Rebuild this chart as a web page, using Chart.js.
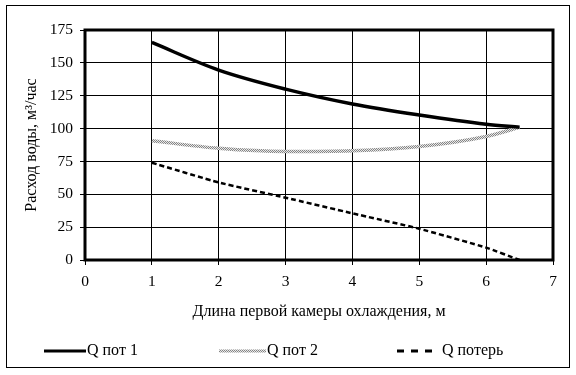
<!DOCTYPE html>
<html>
<head>
<meta charset="utf-8">
<script src="https://cdn.jsdelivr.net/npm/chart.js@4/dist/chart.umd.min.js"></script>
<style>
    body { margin: 0; background: #fff; }
    #wrap { width: 576px; height: 375px; position: relative; }
</style>
</head>
<body>
<div id="wrap"><canvas id="myChart" width="576" height="375"></canvas></div>
<script>
const lengths = [1, 2, 3, 4, 5, 6, 6.5];
const qPot1 = [165.5, 144.5, 130, 118.7, 110.3, 103.3, 101];
const qPot2 = [90.8, 85, 82.6, 83.2, 86.4, 94, 101];
const qLoss = [74, 59, 47.4, 35.5, 23.8, 9.4, 0];
const seriesNames = ['Q пот 1', 'Q пот 2', 'Q потерь'];
const xTitle = 'Длина первой камеры охлаждения, м';
const yTitle = 'Расход воды, м³/час';

const FONT = 'Liberation Serif, Times New Roman, serif';

function toPoints(values){
    return values.map((v, i) => ({x: lengths[i], y: v}));
}

function makeDotPattern(){
    const c = document.createElement('canvas');
    c.width = 2;
    c.height = 2;
    const g = c.getContext('2d');
    g.fillStyle = '#e8e8e8';
    g.fillRect(0, 0, 2, 2);
    g.fillStyle = '#858585';
    g.fillRect(0, 0, 1, 1);
    g.fillRect(1, 1, 1, 1);
    return g.createPattern(c, 'repeat');
}

const dotted = makeDotPattern();

const framePlugin = {
    id: 'frame',
    beforeDraw(chart){
        const ctx = chart.ctx;
        ctx.save();
        ctx.fillStyle = '#fff';
        ctx.fillRect(0, 0, chart.width, chart.height);
        ctx.restore();
    },
    beforeDatasetsDraw(chart){
        const ctx = chart.ctx;
        const a = chart.chartArea;
        ctx.save();
        ctx.strokeStyle = '#000';
        ctx.lineWidth = 3;
        ctx.strokeRect(a.left, a.top, a.right - a.left, a.bottom - a.top);
        ctx.restore();
    },
    afterDraw(chart){
        const ctx = chart.ctx;
        const a = chart.chartArea;
        ctx.save();
        // outer border
        ctx.strokeStyle = '#000';
        ctx.lineWidth = 1;
        ctx.strokeRect(6.5, 5.5, 563, 362);

        // axis titles
        ctx.fillStyle = '#000';
        ctx.font = '16px ' + FONT;
        ctx.textAlign = 'center';
        ctx.textBaseline = 'middle';
        ctx.fillText(xTitle, (a.left + a.right) / 2, 312);
        ctx.save();
        ctx.translate(32, (a.top + a.bottom) / 2);
        ctx.rotate(-Math.PI / 2);
        ctx.fillText(yTitle, 0, 0);
        ctx.restore();

        // legend
        const ly = 351;
        ctx.textAlign = 'left';
        ctx.lineCap = 'butt';

        ctx.strokeStyle = '#000';
        ctx.lineWidth = 3;
        ctx.beginPath();
        ctx.moveTo(44, ly);
        ctx.lineTo(86, ly);
        ctx.stroke();
        ctx.fillText(seriesNames[0], 87, ly);

        ctx.strokeStyle = dotted;
        ctx.lineWidth = 3;
        ctx.beginPath();
        ctx.moveTo(219, ly);
        ctx.lineTo(266, ly);
        ctx.stroke();
        ctx.fillText(seriesNames[1], 267, ly);

        ctx.fillStyle = '#000';
        [397, 411, 425].forEach(x => ctx.fillRect(x, ly - 1.5, 7, 3));
        ctx.fillText(seriesNames[2], 442, ly);
        ctx.restore();
    }
};

const ctx = document.getElementById('myChart');

new Chart(ctx, {
    type: 'line',
    data: {
        datasets: [{
            label: seriesNames[0],
            data: toPoints(qPot1),
            borderColor: '#000',
            borderWidth: 3.5,
            cubicInterpolationMode: 'monotone',
            pointRadius: 0,
        }, {
            label: seriesNames[1],
            data: toPoints(qPot2),
            borderColor: dotted,
            borderWidth: 3.5,
            cubicInterpolationMode: 'monotone',
            pointRadius: 0,
        }, {
            label: seriesNames[2],
            data: toPoints(qLoss),
            borderColor: '#000',
            borderWidth: 2.5,
            borderDash: [5, 3],
            tension: 0.15,
            pointRadius: 0,
        }]
    },
    options: {
        responsive: false,
        animation: false,
        devicePixelRatio: 1,
        layout: {
            padding: {top: 30, right: 23, left: 0, bottom: 0}
        },
        plugins: {
            legend: { display: false },
            tooltip: { enabled: false },
        },
        scales: {
            x: {
                type: 'linear',
                min: 0,
                max: 7,
                afterFit: scale => { scale.height = 115; },
                ticks: {
                    stepSize: 1,
                    color: '#000',
                    padding: 8,
                    font: { family: FONT, size: 15.5 },
                },
                grid: { color: '#000', lineWidth: 1, tickLength: 5 },
                border: { display: false },
            },
            y: {
                min: 0,
                max: 175,
                afterFit: scale => { scale.width = 85; },
                ticks: {
                    stepSize: 25,
                    color: '#000',
                    padding: 7,
                    font: { family: FONT, size: 15.5 },
                },
                grid: { color: '#000', lineWidth: 1, tickLength: 5 },
                border: { display: false },
            }
        }
    },
    plugins: [framePlugin]
});
</script>
</body>
</html>
